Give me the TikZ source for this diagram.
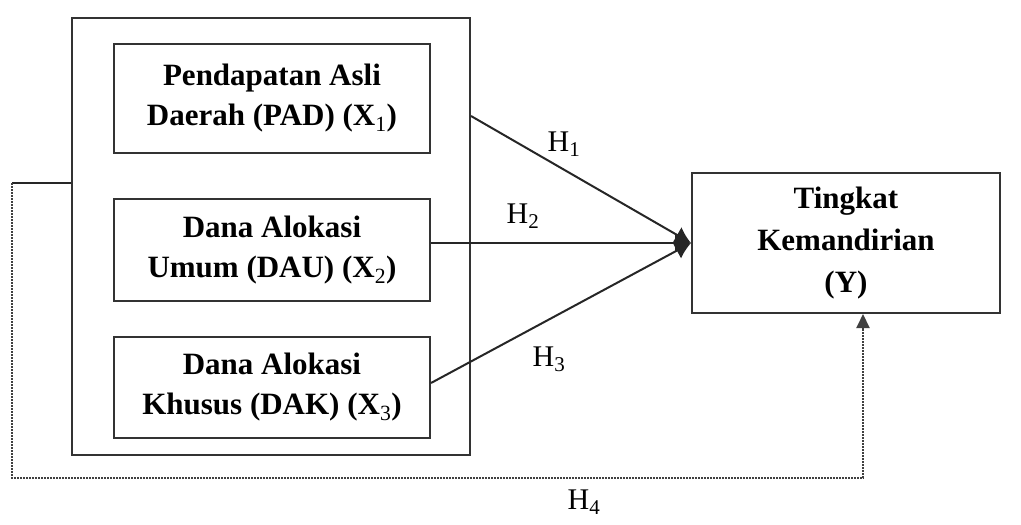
\documentclass[tikz,border=0pt]{standalone}
\usepackage{fontspec}
\setmainfont{Liberation Serif}
\usetikzlibrary{positioning, arrows.meta, calc}
\tikzset{
  var box/.style={draw=black!80, line width=2pt, align=center, inner sep=0pt, font=\fontsize{31}{40}\selectfont\bfseries},
  group box/.style={draw=black!80, line width=2pt, inner sep=0pt},
  path line/.style={line width=2pt, black!85},
  hyp arrow/.style={path line, -{Latex[length=16pt, width=18pt]}},
  hyp label/.style={font=\fontsize{30}{30}\selectfont, inner sep=0pt},
  dotted line/.style={line width=2pt, black!75, densely dotted}
}

\begin{document}
\begin{tikzpicture}[x=1pt, y=-1pt]
                \useasboundingbox (0,0) rectangle (1021,525);

                % Independent variables
                \node[group box, minimum width=398pt, minimum height=437pt] (outer) at (271,236.5) {};
                \node[var box, minimum width=316pt, minimum height=109pt] (pad) at (272,98.5) {Pendapatan Asli\\Daerah (PAD) (X\textsubscript{\mdseries 1})};
                \node[var box, minimum width=316pt, minimum height=102pt] (dau) at (272,250) {Dana Alokasi\\Umum (DAU) (X\textsubscript{\mdseries 2})};
                \node[var box, minimum width=316pt, minimum height=101pt] (dak) at (272,387.5) {Dana Alokasi\\Khusus (DAK) (X\textsubscript{\mdseries 3})};

                % Dependent variable
                \node[var box, minimum width=308pt, minimum height=140pt, font=\fontsize{31}{42}\selectfont\bfseries] (tingkat) at (846,243) {Tingkat\\Kemandirian\\(Y)};

                % Partial hypotheses
                \coordinate (h1 start) at (outer.east |- 0,116);
                \coordinate (h3 start) at (dak.east |- 0,383);
                \draw[hyp arrow] (h1 start) -- (tingkat.west);
                \draw[hyp arrow] (dau.east |- tingkat.west) -- (tingkat.west);
                \draw[hyp arrow] (h3 start) -- (tingkat.west);
                \node[hyp label] (h1) at (564,144) {H\textsubscript{1}};
                \node[hyp label] (h2) at (523,216) {H\textsubscript{2}};
                \node[hyp label] (h3) at (549,359) {H\textsubscript{3}};

                % Joint hypothesis
                \coordinate (h4 turn) at (12,183);
                \coordinate (h4 low) at (12,478);
                \coordinate (h4 end) at (863,478);
                \draw[path line] (outer.west |- h4 turn) -- (h4 turn);
                \draw[dotted line, -{Triangle[length=14pt, width=13pt]}] (h4 turn) -- (h4 low) -- (h4 end) -- (h4 end |- tingkat.south);
                \node[hyp label] (h4) at (584,502) {H\textsubscript{4}};
            \end{tikzpicture}
\end{document}
